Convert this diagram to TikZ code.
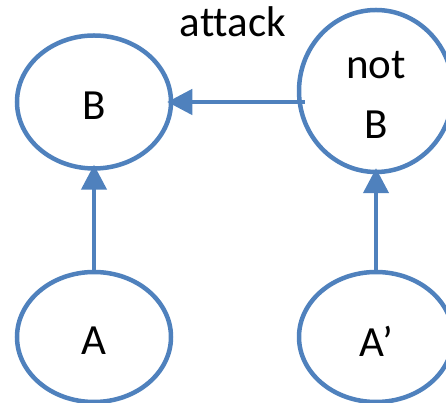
\documentclass[tikz,border=0pt]{standalone}
\usepackage{fontspec}
\setmainfont[Ligatures=NoCommon]{Carlito}
\usetikzlibrary{arrows.meta,shapes.geometric}
\definecolor{edgeblue}{HTML}{4F81BD}
% drop a label a little below the optical centre, keeping its box size
\newcommand{\lowered}[1]{\raisebox{-4pt}[\height][\depth]{#1}}
\begin{document}
\begin{tikzpicture}[x=1pt,y=1pt,
    state/.style={ellipse, draw=edgeblue, line width=4.5pt, fill=white,
      inner sep=0pt, minimum width=154pt,
      font=\fontsize{43}{60}\selectfont, align=center},
    link/.style={draw=edgeblue, line width=4.5pt,
      -{Triangle[length=25pt,width=25pt]}, shorten >=-6pt},
    lbl/.style={font=\fontsize{43}{52}\selectfont}]
  \clip (0,0) rectangle (446,403);
  \useasboundingbox (0,0) rectangle (446,403);
  % the four statements
  \node[state, minimum height=133pt] (B) at (94,301) {\lowered{B}};
  \node[state, minimum height=162pt] (notB) at (376,312) {\lowered{not}\\\lowered{B}};
  \node[state, minimum height=130pt] (A) at (94,66) {\lowered{A}};
  \node[state, minimum height=130pt] (A2) at (376,66) {\lowered{A’}};
  % support and attack relations
  \draw[link, shorten <=-2pt] (A.north) -- (B.south);
  \draw[link, shorten <=-2pt] (A2.north) -- (notB.south);
  \draw[link, shorten <=-8pt] (B.east -| notB.west) -- (B.east);
  \node[lbl, anchor=base] (att) at (233,366) {attack};
\end{tikzpicture}
\end{document}
